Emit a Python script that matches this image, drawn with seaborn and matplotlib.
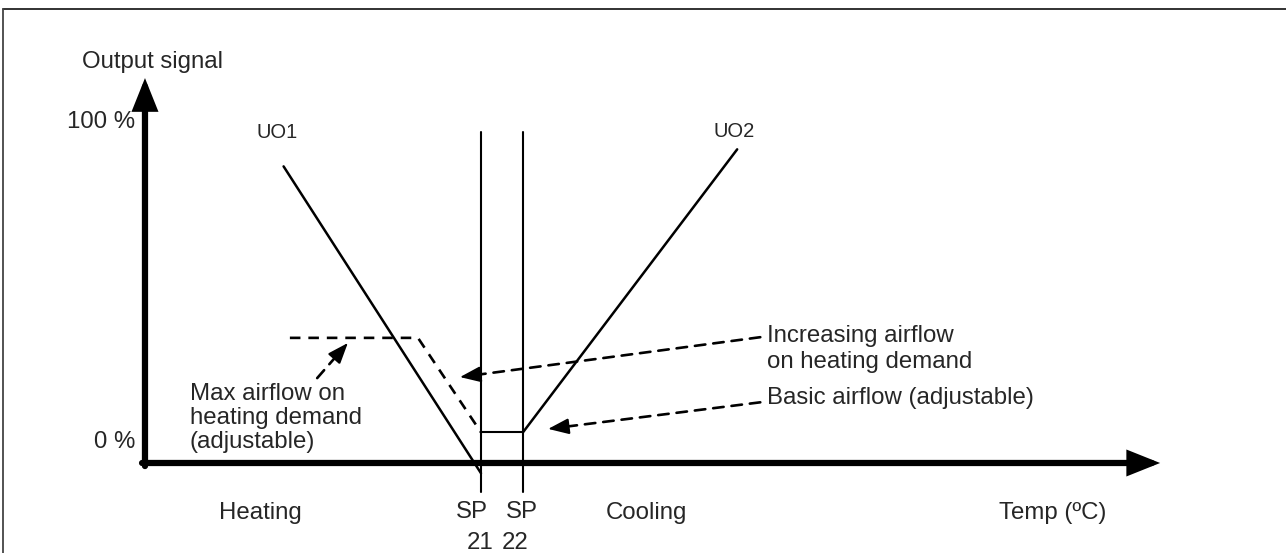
import matplotlib
matplotlib.use('Agg')
import numpy as np
import matplotlib.pyplot as plt
import seaborn as sns
from matplotlib.lines import Line2D

# setpoints (degC) and how far the setpoint lines reach (output %)
sp_temps = [21, 22]
sp_out = [97, -8.5]

# UO1 heating ramp, UO2 cooling ramp (output %)
uo1_temp = [16.3, 21.0]
uo1_out = [87, -3]
uo2_temp = [22.0, 27.1]
uo2_out = [9, 92]

# basic airflow between the setpoints
basic_temp = [21, 22]
basic_out = [9, 9]

# airflow on heating demand (dashed)
airflow_temp = [16.45, 19.5, 21.0]
airflow_out = [36.7, 36.7, 9]

# axis extents
x_origin, x_end = 13.0, 37.17
y_end = 112.9

sns.set_theme(style='white')
plt.rcParams['font.family'] = ['Liberation Sans', 'DejaVu Sans']

fig = plt.figure(figsize=(12.86, 5.53), dpi=100)
ax = fig.add_axes([0, 0, 1, 1])
ax.set_xlim(9.548, 40.167)
ax.set_ylim(-26.4, 135.8)
ax.axis('off')

# frame
fig.add_artist(Line2D([3 / 1286, 1], [1 - 9 / 553] * 2, transform=fig.transFigure, color='#222222', lw=1.3))
fig.add_artist(Line2D([3 / 1286] * 2, [0, 1 - 9 / 553], transform=fig.transFigure, color='#444444', lw=1.3))

# axes with arrows
big_head = dict(arrowstyle='-|>,head_length=0.8,head_width=0.32', lw=4.5, color='black',
                shrinkA=0, shrinkB=0, mutation_scale=20, joinstyle='miter')
ax.annotate('', xy=(x_end, 0), xytext=(x_origin - 0.07, 0), arrowprops=big_head)
ax.annotate('', xy=(x_origin, y_end), xytext=(x_origin, -0.9), arrowprops=big_head)

# curves
for sp in sp_temps:
    sns.lineplot(x=[sp, sp], y=sp_out, ax=ax, color='black', lw=1.5, sort=False, estimator=None)
sns.lineplot(x=uo1_temp, y=uo1_out, ax=ax, color='black', lw=1.8, sort=False, estimator=None)
sns.lineplot(x=uo2_temp, y=uo2_out, ax=ax, color='black', lw=1.8, sort=False, estimator=None)
sns.lineplot(x=basic_temp, y=basic_out, ax=ax, color='black', lw=1.5, sort=False, estimator=None)
sns.lineplot(x=airflow_temp, y=airflow_out, ax=ax, color='black', lw=1.9, sort=False,
             estimator=None, linestyle=(0, (4, 3)))


def pointer(start, end, head_px=16):
    # dashed shaft plus a solid head
    p0 = ax.transData.transform(start)
    p1 = ax.transData.transform(end)
    d = (p1 - p0) / np.hypot(*(p1 - p0))
    back = ax.transData.inverted().transform(p1 - d * head_px)
    ax.annotate('', xy=back, xytext=start,
                arrowprops=dict(arrowstyle='-', lw=1.9, color='black', linestyle=(0, (4, 3)),
                                shrinkA=0, shrinkB=0))
    ax.annotate('', xy=end, xytext=back,
                arrowprops=dict(arrowstyle='-|>,head_length=1.1,head_width=0.42', lw=1.2,
                                color='black', shrinkA=0, shrinkB=0, mutation_scale=12,
                                joinstyle='miter'))


pointer((17.10, 24.9), (17.83, 35.2))
pointer((27.65, 36.9), (20.5, 25.2))
pointer((27.65, 17.8), (22.6, 10.0))

fs = 17.3
ax.text(11.5, 117.6, 'Output signal', fontsize=fs, ha='left', va='center')
ax.text(12.76, 100, '100 %', fontsize=fs, ha='right', va='center')
ax.text(12.76, 6.2, '0 %', fontsize=fs, ha='right', va='center')
ax.text(16.14, 96.8, 'UO1', fontsize=14.5, ha='center', va='center')
ax.text(27.02, 97.1, 'UO2', fontsize=14.5, ha='center', va='center')

ax.text(14.07, 13.2, 'Max airflow on\nheating demand\n(adjustable)', fontsize=fs,
        ha='left', va='center', linespacing=1.12)
ax.text(27.81, 33.4, 'Increasing airflow\non heating demand', fontsize=fs,
        ha='left', va='center', linespacing=1.2)
ax.text(27.81, 19.1, 'Basic airflow (adjustable)', fontsize=fs, ha='left', va='center')

ax.text(15.74, -14.7, 'Heating', fontsize=fs, ha='center', va='center')
ax.text(24.95, -14.7, 'Cooling', fontsize=fs, ha='center', va='center')
ax.text(34.62, -14.7, 'Temp (ºC)', fontsize=fs, ha='center', va='center')

ax.text(20.78, -14.4, 'SP', fontsize=fs, ha='center', va='center')
ax.text(21.98, -14.4, 'SP', fontsize=fs, ha='center', va='center')
ax.text(20.98, -23.5, '21', fontsize=fs, ha='center', va='center')
ax.text(21.81, -23.5, '22', fontsize=fs, ha='center', va='center')

fig.savefig('out.png', dpi=100)
